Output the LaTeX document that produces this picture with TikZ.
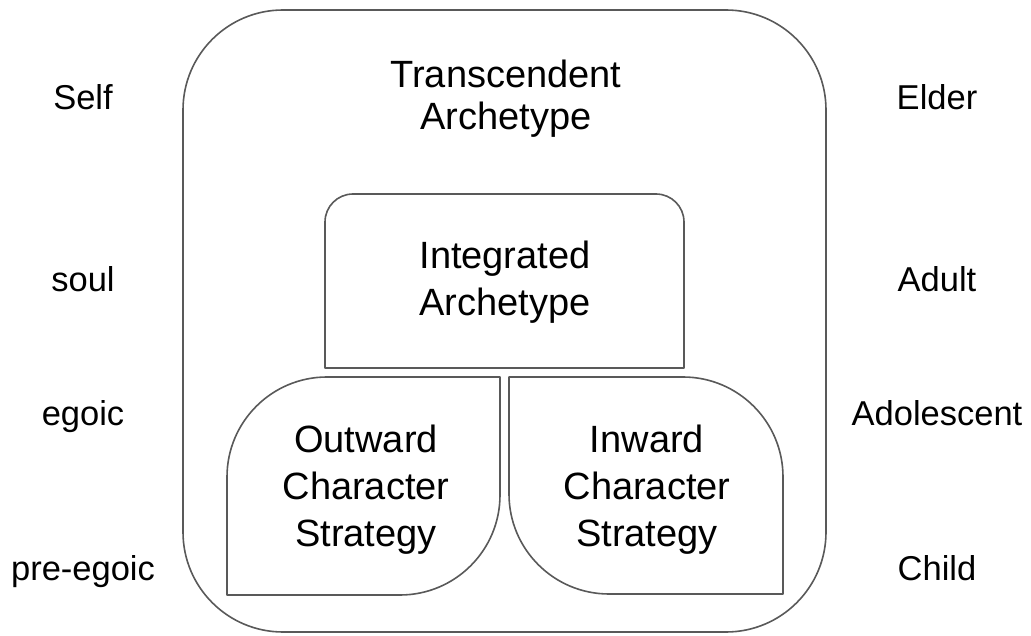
\documentclass[tikz,border=0pt]{standalone}
\usepackage{fontspec}
\setmainfont{Liberation Sans}
\usepackage{tikz}

\begin{document}
\begin{tikzpicture}[x=1pt, y=1pt, line cap=round, line join=round,
		part/.style={draw=black!65, line width=1.6pt},
		level/.style={anchor=base, inner sep=0pt, text=black, font=\fontsize{34.5}{40}\selectfont},
		title/.style={anchor=north, inner sep=0pt, align=center, text=black, font=\fontsize{38}{47}\selectfont}]
		\useasboundingbox (0,0) rectangle (1031,635);
		% outer frame
		\draw[part, rounded corners=100pt] (183,3) rectangle (826,625);
		\node[title, font=\fontsize{38}{42}\selectfont] (trans) at (506,575) {Transcendent\\Archetype};
		% inner boxes
		\draw[part] (325,267) -- (325,413) arc[start angle=180, end angle=90, radius=28]
			-- (656,441) arc[start angle=90, end angle=0, radius=28] -- (684,267) -- cycle;
		\draw[part] (227,40) -- (227,158) arc[start angle=180, end angle=90, radius=100]
			-- (500,258) -- (500,140) arc[start angle=0, end angle=-90, radius=100] -- cycle;
		\draw[part] (509,258) -- (683,258) arc[start angle=90, end angle=0, radius=100]
			-- (783,41) -- (609,41) arc[start angle=270, end angle=180, radius=100] -- cycle;
		\node[title] (integ) at (505,394) {Integrated\\Archetype};
		\node[title] (outw) at (366,210) {Outward\\Character\\Strategy};
		\node[title] (inw) at (647,210) {Inward\\Character\\Strategy};
		% levels
		\node[level] (self) at (83,525) {Self};
		\node[level] (soul) at (83,343) {soul};
		\node[level] (egoic) at (83,209) {egoic};
		\node[level] (pre) at (83,55) {pre-egoic};
		\node[level] (elder) at (937,525) {Elder};
		\node[level] (adult) at (937,343) {Adult};
		\node[level] (adol) at (937,209) {Adolescent};
		\node[level] (child) at (937,55) {Child};
	\end{tikzpicture}
\end{document}
